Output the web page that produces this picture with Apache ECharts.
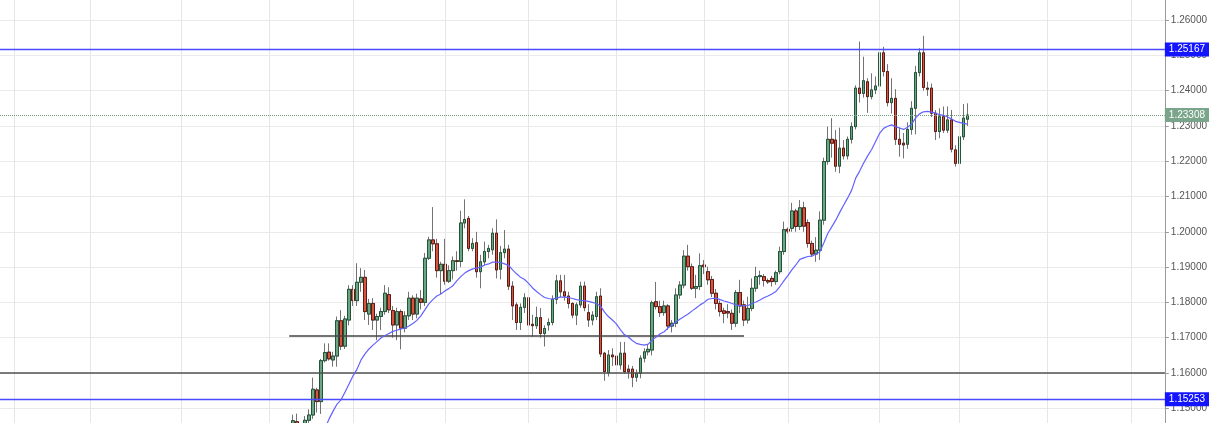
<!DOCTYPE html>
<html><head><meta charset="utf-8">
<script src="https://cdn.jsdelivr.net/npm/echarts@6/dist/echarts.min.js"></script>
<style>html,body{margin:0;padding:0;background:#fff;overflow:hidden}#c{width:1210px;height:423px}</style>
</head><body><div id="c"></div>
<script>
// ---- categories (daily trading sessions) ----
const firstSession = '2017-03-29';
const skippedSessions = ['2017-04-14'];
const sessionCount = 292;

// ---- EUR/USD daily candles, first candle date ----
const candleStart = '2017-07-11';
const opens = [1.1400,1.1462,1.1414,1.1400,1.1466,1.1481,1.1552,1.1519,1.1635,1.1659,1.1637,1.1648,1.1748,1.1676,1.1750,1.1837,1.1805,1.1857,1.1871,1.1767,1.1797,1.1750,1.1760,1.1774,1.1822,1.1777,1.1736,1.1774,1.1727,1.1762,1.1812,1.1767,1.1810,1.1800,1.1925,1.1977,1.1966,1.1890,1.1908,1.1860,1.1890,1.1918,1.1916,1.2025,1.2038,1.1953,1.1969,1.1887,1.1915,1.1944,1.1949,1.1996,1.1894,1.1941,1.1951,1.1846,1.1793,1.1743,1.1786,1.1813,1.1738,1.1734,1.1757,1.1712,1.1736,1.1743,1.1809,1.1861,1.1830,1.1818,1.1797,1.1764,1.1793,1.1846,1.1771,1.1750,1.1760,1.1818,1.1656,1.1601,1.1651,1.1648,1.1623,1.1656,1.1611,1.1611,1.1588,1.1599,1.1642,1.1660,1.1665,1.1802,1.1788,1.1771,1.1790,1.1733,1.1741,1.1821,1.1849,1.1931,1.1901,1.1840,1.1845,1.1906,1.1887,1.1865,1.1826,1.1797,1.1776,1.1774,1.1769,1.1741,1.1828,1.1793,1.1750,1.1783,1.1840,1.1873,1.1873,1.1862,1.1868,1.1859,1.1887,1.1944,1.2007,1.2010,1.2059,1.2015,1.2068,1.2026,1.1967,1.1937,1.1948,1.2033,1.2199,1.2262,1.2260,1.2186,1.2237,1.2215,1.2262,1.2298,1.2407,1.2392,1.2425,1.2383,1.2402,1.2413,1.2507,1.2454,1.2366,1.2378,1.2262,1.2251,1.2248,1.2290,1.2350,1.2451,1.2507,1.2407,1.2407,1.2336,1.2284,1.2326,1.2288,1.2317,1.2232,1.2194,1.2269,1.2319];
const highs = [1.1482,1.1485,1.1446,1.1478,1.1497,1.1587,1.1558,1.1640,1.1684,1.1684,1.1660,1.1760,1.1778,1.1762,1.1849,1.1849,1.1911,1.1897,1.1892,1.1810,1.1812,1.1768,1.1785,1.1849,1.1843,1.1790,1.1785,1.1780,1.1775,1.1830,1.1820,1.1825,1.1835,1.1940,1.1986,1.2070,1.1980,1.1915,1.1980,1.1905,1.1930,1.1945,1.2060,1.2092,1.2045,1.1982,1.2000,1.1935,1.1972,1.1963,1.2010,1.2035,1.1960,1.2005,1.1963,1.1860,1.1800,1.1797,1.1826,1.1820,1.1765,1.1788,1.1784,1.1735,1.1755,1.1820,1.1878,1.1878,1.1878,1.1830,1.1800,1.1800,1.1859,1.1859,1.1795,1.1775,1.1830,1.1840,1.1660,1.1665,1.1670,1.1674,1.1688,1.1688,1.1623,1.1620,1.1610,1.1650,1.1670,1.1680,1.1805,1.1858,1.1805,1.1805,1.1795,1.1750,1.1840,1.1860,1.1948,1.1963,1.1910,1.1878,1.1939,1.1920,1.1901,1.1875,1.1838,1.1805,1.1785,1.1795,1.1780,1.1835,1.1864,1.1805,1.1816,1.1868,1.1901,1.1890,1.1880,1.1868,1.1875,1.1890,1.1958,1.2029,1.2012,1.2082,1.2065,1.2090,1.2085,1.2035,1.1975,1.1985,1.2058,1.2210,1.2298,1.2322,1.2288,1.2295,1.2260,1.2270,1.2310,1.2415,1.2539,1.2496,1.2435,1.2449,1.2440,1.2524,1.2524,1.2475,1.2435,1.2404,1.2295,1.2280,1.2310,1.2370,1.2470,1.2520,1.2555,1.2425,1.2420,1.2345,1.2350,1.2355,1.2355,1.2345,1.2245,1.2275,1.2362,1.2364];
const lows = [1.1392,1.1405,1.1390,1.1395,1.1455,1.1470,1.1488,1.1484,1.1630,1.1635,1.1618,1.1618,1.1665,1.1668,1.1735,1.1790,1.1790,1.1830,1.1750,1.1736,1.1722,1.1693,1.1722,1.1765,1.1770,1.1700,1.1693,1.1667,1.1715,1.1750,1.1750,1.1755,1.1780,1.1790,1.1920,1.1945,1.1870,1.1823,1.1850,1.1855,1.1865,1.1890,1.1900,1.2010,1.1945,1.1945,1.1870,1.1840,1.1905,1.1925,1.1935,1.1868,1.1865,1.1925,1.1835,1.1750,1.1722,1.1722,1.1770,1.1698,1.1703,1.1725,1.1700,1.1675,1.1720,1.1735,1.1795,1.1815,1.1805,1.1783,1.1755,1.1736,1.1785,1.1775,1.1731,1.1735,1.1750,1.1645,1.1578,1.1590,1.1620,1.1610,1.1610,1.1599,1.1584,1.1560,1.1575,1.1585,1.1630,1.1650,1.1650,1.1780,1.1759,1.1762,1.1722,1.1715,1.1730,1.1810,1.1840,1.1890,1.1835,1.1812,1.1835,1.1880,1.1850,1.1815,1.1780,1.1760,1.1741,1.1755,1.1722,1.1730,1.1770,1.1733,1.1740,1.1775,1.1830,1.1850,1.1845,1.1852,1.1845,1.1850,1.1880,1.1935,1.1995,1.2000,1.2000,1.2005,1.2000,1.1955,1.1929,1.1915,1.1920,1.2020,1.2190,1.2210,1.2170,1.2166,1.2205,1.2205,1.2250,1.2290,1.2366,1.2380,1.2337,1.2375,1.2390,1.2400,1.2440,1.2355,1.2335,1.2246,1.2213,1.2208,1.2235,1.2275,1.2276,1.2440,1.2400,1.2385,1.2325,1.2260,1.2265,1.2280,1.2280,1.2225,1.2185,1.2158,1.2260,1.2300];
const closes = [1.1465,1.1415,1.1400,1.1466,1.1481,1.1554,1.1519,1.1635,1.1658,1.1640,1.1648,1.1748,1.1676,1.1753,1.1837,1.1805,1.1857,1.1871,1.1774,1.1797,1.1750,1.1760,1.1774,1.1826,1.1779,1.1736,1.1774,1.1727,1.1762,1.1812,1.1767,1.1812,1.1800,1.1925,1.1977,1.1966,1.1890,1.1908,1.1860,1.1890,1.1918,1.1916,1.2025,1.2035,1.1953,1.1967,1.1887,1.1915,1.1944,1.1953,1.1996,1.1892,1.1941,1.1951,1.1846,1.1790,1.1743,1.1786,1.1813,1.1736,1.1734,1.1757,1.1712,1.1726,1.1743,1.1809,1.1861,1.1830,1.1818,1.1797,1.1764,1.1793,1.1846,1.1785,1.1750,1.1764,1.1816,1.1654,1.1604,1.1651,1.1646,1.1623,1.1656,1.1604,1.1604,1.1588,1.1599,1.1642,1.1660,1.1667,1.1799,1.1788,1.1771,1.1790,1.1733,1.1741,1.1821,1.1849,1.1931,1.1901,1.1840,1.1845,1.1904,1.1901,1.1864,1.1826,1.1797,1.1774,1.1769,1.1770,1.1741,1.1828,1.1790,1.1750,1.1783,1.1840,1.1873,1.1876,1.1862,1.1858,1.1859,1.1884,1.1944,1.2006,1.2002,1.2059,1.2015,1.2068,1.2016,1.1967,1.1937,1.1948,1.2033,1.2199,1.2262,1.2251,1.2186,1.2237,1.2215,1.2262,1.2298,1.2407,1.2392,1.2428,1.2383,1.2402,1.2413,1.2507,1.2454,1.2366,1.2378,1.2262,1.2248,1.2246,1.2290,1.2350,1.2451,1.2507,1.2409,1.2404,1.2336,1.2284,1.2326,1.2288,1.2317,1.2234,1.2194,1.2269,1.2322,1.2331];

// ---- moving average, first value date ----
const maStart = '2017-07-20';
const maValues = [1.1420,1.1444,1.1470,1.1492,1.1512,1.1524,1.1546,1.1569,1.1592,1.1611,1.1637,1.1654,1.1668,1.1679,1.1689,1.1699,1.1706,1.1712,1.1718,1.1721,1.1725,1.1727,1.1733,1.1740,1.1749,1.1762,1.1779,1.1796,1.1808,1.1818,1.1824,1.1832,1.1839,1.1847,1.1861,1.1873,1.1883,1.1890,1.1895,1.1897,1.1900,1.1906,1.1909,1.1914,1.1914,1.1913,1.1909,1.1905,1.1892,1.1881,1.1871,1.1865,1.1854,1.1841,1.1831,1.1822,1.1814,1.1811,1.1809,1.1813,1.1815,1.1815,1.1814,1.1811,1.1808,1.1806,1.1805,1.1803,1.1800,1.1797,1.1790,1.1773,1.1760,1.1750,1.1739,1.1723,1.1709,1.1702,1.1692,1.1684,1.1681,1.1679,1.1682,1.1694,1.1702,1.1711,1.1717,1.1728,1.1736,1.1745,1.1753,1.1760,1.1767,1.1776,1.1784,1.1793,1.1800,1.1809,1.1811,1.1812,1.1808,1.1804,1.1801,1.1797,1.1793,1.1791,1.1790,1.1791,1.1797,1.1801,1.1807,1.1813,1.1818,1.1824,1.1831,1.1845,1.1861,1.1876,1.1892,1.1906,1.1922,1.1926,1.1930,1.1931,1.1937,1.1943,1.1968,1.1995,1.2014,1.2033,1.2055,1.2076,1.2096,1.2118,1.2152,1.2172,1.2195,1.2215,1.2233,1.2256,1.2279,1.2293,1.2299,1.2303,1.2298,1.2294,1.2290,1.2296,1.2305,1.2322,1.2334,1.2340,1.2341,1.2339,1.2336,1.2332,1.2330,1.2325,1.2320,1.2313,1.2310,1.2307,1.2305];

// ---- drawn levels ----
const resistanceLevel = 1.25167;
const supportLevel = 1.15253;
const lastPrice = 1.23308;
const roundLevel = 1.16;
const rangeLevel = 1.1705, rangeFrom = '2017-07-10', rangeTo = '2017-12-15';
const trendStart = ['2018-03-09', 1.2430], trendEnd = ['2018-04-09', 1.2695];

// ---- price axis ----
const yMin = 1.145836, yMax = 1.265666;
const yTicks = [1.15, 1.16, 1.17, 1.18, 1.19, 1.20, 1.21, 1.22, 1.23, 1.24, 1.25, 1.26];

function buildSessions(start, count, skip) {
  const out = []; const d = new Date(start + 'T00:00:00Z');
  while (out.length < count) {
    const wd = d.getUTCDay(); const s = d.toISOString().slice(0, 10);
    if (wd !== 0 && wd !== 6 && skip.indexOf(s) < 0) out.push(s);
    d.setUTCDate(d.getUTCDate() + 1);
  }
  return out;
}
const sessions = buildSessions(firstSession, sessionCount, skippedSessions);
const c0 = sessions.indexOf(candleStart);
const m0 = sessions.indexOf(maStart);
const wickData = opens.map((o, i) => [c0 + i, o, closes[i], lows[i], highs[i]]);
const bodyData = opens.map((o, i) => [c0 + i, o, closes[i], Math.min(o, closes[i]), Math.max(o, closes[i])]);
const maData = maValues.map((v, i) => [m0 + i, v]);
const monthStarts = sessions.filter((s, i) => i > 0 && s.slice(0, 7) !== sessions[i - 1].slice(0, 7));

const FONT = 'Liberation Sans, Arial, sans-serif';
const chart = echarts.init(document.getElementById('c'), null, { renderer: 'canvas' });
const boxLabel = (bg) => ({
  show: true, position: 'end', distance: 0, formatter: (p) => Number(p.value).toFixed(5),
  color: '#fff', backgroundColor: bg, fontSize: 10, fontFamily: FONT, padding: [2, 4, 2, 4]
});
chart.setOption({
  animation: false,
  backgroundColor: '#ffffff',
  grid: { left: -1.29, top: 0, width: 1171.8, height: 423, containLabel: false },
  xAxis: {
    type: 'category', data: sessions, boundaryGap: true,
    axisLine: { show: false }, axisTick: { show: false }, axisLabel: { show: false }, splitLine: { show: false }
  },
  yAxis: {
    type: 'value', position: 'right', min: yMin, max: yMax,
    axisLine: { show: true, lineStyle: { color: '#9a9a9a', width: 1 } },
    axisTick: { show: true, length: 4, customValues: yTicks, lineStyle: { color: '#9a9a9a' } },
    axisLabel: { color: '#555', fontSize: 10, fontFamily: FONT, margin: 6, customValues: yTicks, formatter: (v) => Number(v).toFixed(5) },
    splitLine: { show: true, lineStyle: { color: '#ebebeb', width: 1 } }
  },
  series: [
    {
      type: 'line', data: [], silent: true, z: 1,
      markLine: {
        silent: true, symbol: ['none', 'none'], animation: false, label: { show: false }, precision: 6,
        lineStyle: { color: '#e6e6e6', width: 1, type: 'solid' },
        data: monthStarts.map((m) => ({ xAxis: m }))
      }
    },
    {
      name: 'wicks', type: 'candlestick', data: wickData, encode: { x: 0, y: [1, 2, 3, 4] },
      barWidth: 3, z: 3, silent: true,
      itemStyle: { color: '#737375', color0: '#737375', borderColor: '#737375', borderColor0: '#737375', borderWidth: 1 }
    },
    {
      name: 'EURUSD', type: 'candlestick', data: bodyData, encode: { x: 0, y: [1, 2, 3, 4] },
      barWidth: 3, z: 4, silent: true,
      itemStyle: { color: '#6ba583', color0: '#d75442', borderColor: '#225437', borderColor0: '#5b1a13', borderWidth: 1 }
    },
    {
      name: 'MA', type: 'line', data: maData, showSymbol: false, z: 5, silent: true,
      lineStyle: { color: '#6262ff', width: 1.2 }
    },
    {
      type: 'line', data: [], silent: true, z: 6,
      markLine: {
        silent: true, symbol: ['none', 'none'], animation: false, precision: 6,
        data: [
          { yAxis: roundLevel, lineStyle: { color: '#505050', width: 1.5, type: 'solid' }, label: { show: false } },
          [{ coord: [rangeFrom, rangeLevel] }, { coord: [rangeTo, rangeLevel], lineStyle: { color: '#444', width: 1.5, type: 'solid' }, label: { show: false } }],
          { yAxis: lastPrice, lineStyle: { color: '#6f9c7d', width: 1, type: 'dotted' }, label: boxLabel('#7aa58a') },
          { yAxis: resistanceLevel, lineStyle: { color: '#4a4aff', width: 1.3, type: 'solid' }, label: boxLabel('#1414ff') },
          { yAxis: supportLevel, lineStyle: { color: '#4a4aff', width: 1.3, type: 'solid' }, label: boxLabel('#1414ff') },
          [{ coord: trendStart }, { coord: trendEnd, lineStyle: { color: '#5f7dd6', width: 2, type: 'solid' }, label: { show: false } }]
        ]
      }
    }
  ]
});
</script>
</body></html>
